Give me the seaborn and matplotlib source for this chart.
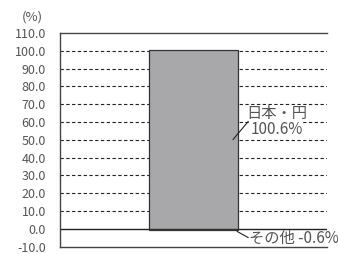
import matplotlib
matplotlib.use("Agg")
import matplotlib.pyplot as plt
import seaborn as sns
import pandas as pd

categories = ["日本・円", "その他"]
values = [100.6, -0.6]
pct_labels = ["100.6%", "その他 -0.6%"]
yticks = [-10, 0, 10, 20, 30, 40, 50, 60, 70, 80, 90, 100, 110]

sns.set_style("white")
plt.rcParams['font.family'] = ['Noto Sans CJK JP', 'DejaVu Sans']

fig = plt.figure(figsize=(3.38, 2.54), dpi=100)
ax = fig.add_axes([60/338, 7.5/254, 267/338, 213.5/254])

df = pd.DataFrame({"group": ["total"] * len(values), "value": values, "cat": categories})
sns.barplot(data=df, x="group", y="value", hue="cat", dodge=False,
            palette=["#a7a8ab", "#231f20"], width=0.666, edgecolor="#333333",
            linewidth=0.9, legend=False, ax=ax, zorder=3)

ax.set_xlim(-1.0, 1.0)
ax.set_ylim(-10, 110)
ax.set_yticks(yticks)
ax.set_yticklabels([f"{v:.1f}" for v in yticks], color="#555555", fontsize=9)
ax.tick_params(axis="y", length=0, pad=10)
ax.set_xticks([])
ax.set_xlabel("")
ax.set_ylabel("")

for v in yticks[2:-1]:
    ax.axhline(v, color="#222222", lw=0.8, ls=(0, (3, 2.2)), zorder=1)
ax.axhline(0, color="#222222", lw=1.0, zorder=2)

for s in ["left", "top", "bottom"]:
    ax.spines[s].set_visible(True)
    ax.spines[s].set_color("#444444")
    ax.spines[s].set_linewidth(1.0)
ax.spines["right"].set_visible(False)

txt_kw = dict(fontsize=11, color="#555555", zorder=5,
              bbox=dict(boxstyle="square,pad=0.0", fc="white", ec="none"))
# 日本・円 label
ax.text(0.625, 64.8, categories[0], ha="center", va="center", **txt_kw)
ax.text(0.625, 56.0, pct_labels[0], ha="center", va="center", **txt_kw)
ax.plot([0.296, 0.41], [50.1, 60.3], color="#222222", lw=0.8, zorder=6)
# その他 label
ax.text(0.415, -5.6, pct_labels[1], ha="left", va="center", fontsize=11,
        color="#555555", zorder=5, clip_on=False)
ax.plot([0.326, 0.41], [-1.5, -5.0], color="#222222", lw=0.8, zorder=6)

fig.text(22/338, 1 - 17/254, "(%)", fontsize=9.5, color="#555555", va="center")

fig.savefig("out.png", dpi=100)
